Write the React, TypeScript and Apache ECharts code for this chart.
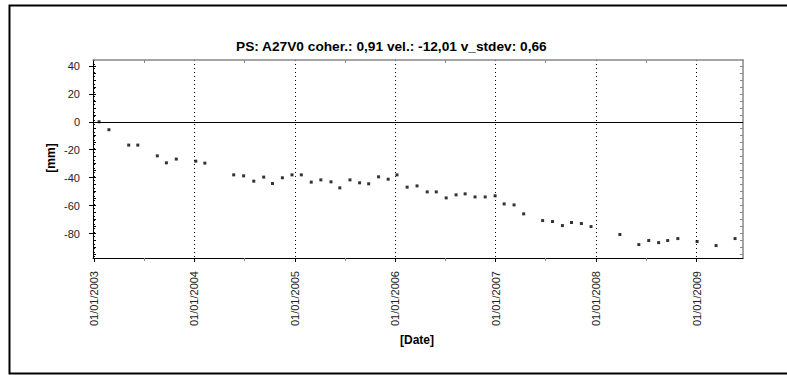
import React, { useEffect, useRef } from "react";
import * as echarts from "echarts";

const titleText = "PS: A27V0 coher.: 0,91 vel.: -12,01 v_stdev: 0,66";
const xAxisName = "[Date]";
const yAxisName = "[mm]";

const dates = [
  "2003-01-19", "2003-02-24", "2003-05-07", "2003-06-09", "2003-08-19", "2003-09-21", "2003-10-27",
  "2004-01-06", "2004-02-08", "2004-05-23", "2004-06-28", "2004-08-04", "2004-09-09", "2004-10-11",
  "2004-11-16", "2004-12-21", "2005-01-24", "2005-03-01", "2005-04-05", "2005-05-12", "2005-06-13",
  "2005-07-20", "2005-08-24", "2005-09-26", "2005-11-01", "2005-12-06", "2006-01-07", "2006-02-13",
  "2006-03-21", "2006-04-27", "2006-05-30", "2006-07-05", "2006-08-10", "2006-09-12", "2006-10-18",
  "2006-11-24", "2006-12-30", "2007-02-01", "2007-03-09", "2007-04-13", "2007-06-21", "2007-07-27",
  "2007-09-01", "2007-10-04", "2007-11-09", "2007-12-14", "2008-03-28", "2008-06-05", "2008-07-11",
  "2008-08-16", "2008-09-18", "2008-10-25", "2009-01-03", "2009-03-13", "2009-05-21",
];

const displacement = [
  0, -5.7, -16.7, -16.7, -24.4, -29.4, -26.7,
  -28.2, -29.6, -38.0, -38.7, -42.5, -39.6, -44.2,
  -40.1, -38.0, -38.0, -43.2, -41.6, -43.0, -47.3,
  -41.6, -43.7, -44.4, -39.4, -41.1, -38.0, -46.8,
  -45.9, -50.2, -50.2, -54.5, -52.3, -51.6, -53.8,
  -53.8, -53.0, -58.8, -59.5, -65.9, -70.7, -71.4,
  -74.3, -72.1, -72.8, -75.0, -80.7, -87.9, -85.0,
  -86.5, -85.0, -83.6, -85.7, -88.6, -83.6,
];

const yearTicks = ["2003-01-01", "2004-01-01", "2005-01-01", "2006-01-01", "2007-01-01", "2008-01-01", "2009-01-01"];
const midYearTicks = ["2003-07-01", "2004-07-01", "2005-07-01", "2006-07-01", "2007-07-01", "2008-07-01"];
const yMajorTicks = [-80, -60, -40, -20, 0, 20, 40];
const yMinorTicks = [-95, -90, -85, -80, -75, -70, -65, -60, -55, -50, -45, -40, -35, -30, -25, -20, -15, -10, -5, 0, 5, 10, 15, 20, 25, 30, 35, 40];

const xMin = "2002-12-28";
const xMax = "2009-06-19";
const yMin = -97.5;
const yMax = 44.2;

const ts = (d: string) => new Date(d + "T00:00:00Z").getTime();
const pad = (n: number) => (n < 10 ? "0" + n : "" + n);

export default function App() {
  const ref = useRef<HTMLDivElement>(null);
  useEffect(() => {
    if (!ref.current) return;
    const chart = echarts.init(ref.current, null, { renderer: "svg" });
    const font = "Arial, 'Liberation Sans', sans-serif";
    const commonX = {
      type: "value" as const,
      min: ts(xMin),
      max: ts(xMax),
      gridIndex: 0,
    };
    chart.setOption({
      animation: false,
      backgroundColor: "#ffffff",
      title: {
        text: titleText,
        left: 231,
        top: 34,
        textStyle: { fontSize: 13.7, fontWeight: "bold", color: "#000", fontFamily: font },
      },
      grid: { left: 93, top: 60, width: 650, height: 198, containLabel: false },
      xAxis: [
        {
          ...commonX,
          position: "bottom",
          axisLine: { show: true, onZero: false, lineStyle: { color: "#000", width: 1 } },
          axisTick: { show: true, length: 4, customValues: yearTicks.map(ts), lineStyle: { color: "#000" } },
          axisLabel: {
            show: true,
            rotate: 90,
            margin: 13,
            fontSize: 11,
            color: "#222",
            fontFamily: font,
            customValues: yearTicks.map(ts),
            formatter: (v: number) => {
              const d = new Date(v);
              return pad(d.getUTCDate()) + "/" + pad(d.getUTCMonth() + 1) + "/" + d.getUTCFullYear();
            },
          },
          splitLine: { show: true, lineStyle: { color: "#000", type: [1, 3], width: 1 } },
        },
        {
          ...commonX,
          position: "bottom",
          axisLine: { show: false, onZero: false },
          axisTick: { show: true, length: 3, customValues: midYearTicks.map(ts), lineStyle: { color: "#888" } },
          axisLabel: { show: false },
          splitLine: { show: false },
        },
        {
          ...commonX,
          position: "top",
          axisLine: { show: true, onZero: false, lineStyle: { color: "#888", width: 1.5 } },
          axisTick: { show: true, inside: true, length: 3, customValues: midYearTicks.map(ts), lineStyle: { color: "#888" } },
          axisLabel: { show: false },
          splitLine: { show: false },
        },
      ],
      yAxis: [
        {
          type: "value",
          position: "left",
          min: yMin,
          max: yMax,
          axisLine: { show: true, onZero: false, lineStyle: { color: "#000", width: 1 } },
          axisTick: { show: true, length: 4, customValues: yMajorTicks, lineStyle: { color: "#000" } },
          axisLabel: {
            show: true,
            margin: 13,
            fontSize: 11,
            color: "#222",
            fontFamily: font,
            customValues: yMajorTicks,
          },
          splitLine: { show: false },
        },
        {
          type: "value",
          position: "left",
          min: yMin,
          max: yMax,
          axisLine: { show: false, onZero: false },
          axisTick: { show: true, inside: true, length: 3, customValues: yMinorTicks, lineStyle: { color: "#000" } },
          axisLabel: { show: false },
          splitLine: { show: false },
        },
        {
          type: "value",
          position: "right",
          min: yMin,
          max: yMax,
          axisLine: { show: true, onZero: false, lineStyle: { color: "#888", width: 1.5 } },
          axisTick: { show: true, inside: true, length: 3, customValues: yMinorTicks, lineStyle: { color: "#888" } },
          axisLabel: { show: false },
          splitLine: { show: false },
        },
      ],
      series: [
        {
          type: "scatter",
          xAxisIndex: 0,
          yAxisIndex: 0,
          symbol: "rect",
          symbolSize: 3,
          itemStyle: { color: "#000" },
          data: dates.map((d, i) => [ts(d), displacement[i]]),
          markLine: {
            silent: true,
            symbol: "none",
            label: { show: false },
            lineStyle: { color: "#000", type: "solid", width: 1 },
            data: [{ yAxis: 0 }],
          },
        },
      ],
      graphic: [
        {
          type: "rect",
          shape: { x: 9.5, y: 5.5, width: 800, height: 368 },
          style: { fill: "none", stroke: "#000", lineWidth: 2 },
          silent: true,
        },
        {
          type: "text",
          x: 51,
          y: 158,
          rotation: Math.PI / 2,
          style: {
            text: yAxisName,
            fontSize: 12,
            fontWeight: "bold",
            fill: "#000",
            fontFamily: font,
            align: "center",
            verticalAlign: "middle",
          },
        },
        {
          type: "text",
          x: 417,
          y: 340,
          style: {
            text: xAxisName,
            fontSize: 12,
            fontWeight: "bold",
            fill: "#000",
            fontFamily: font,
            align: "center",
            verticalAlign: "middle",
          },
        },
      ],
    });
    return () => chart.dispose();
  }, []);
  return (
    <div
      ref={ref}
      style={{ position: "fixed", left: 0, top: 0, width: 787, height: 375 }}
    />
  );
}
